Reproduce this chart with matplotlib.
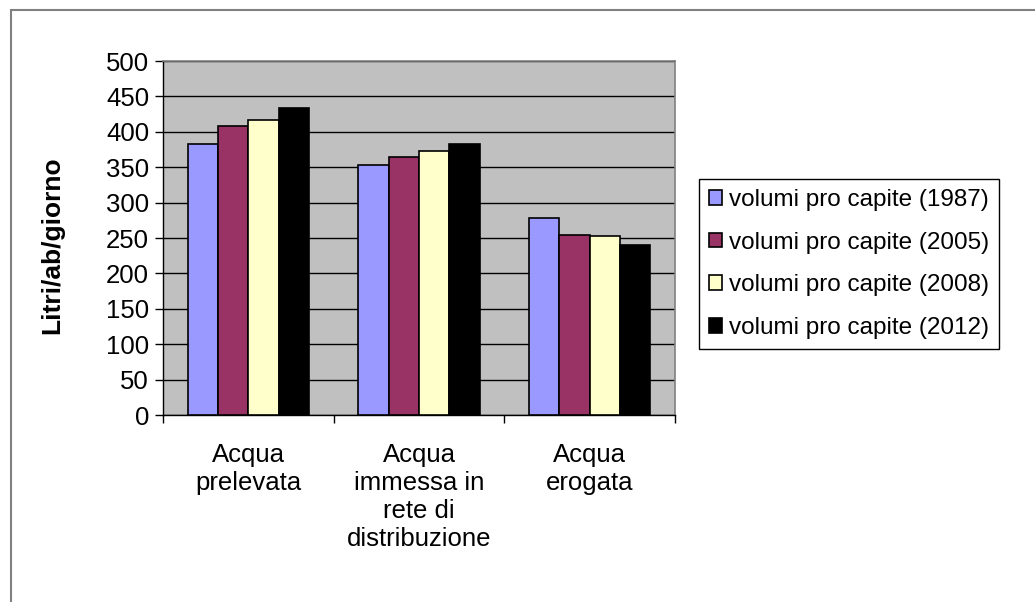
import matplotlib.pyplot as plt
from matplotlib.patches import Rectangle
import numpy as np

plt.rcParams['font.family'] = ['Liberation Sans', 'DejaVu Sans']

categories = ['Acqua\nprelevata', 'Acqua\nimmessa in\nrete di\ndistribuzione', 'Acqua\nerogata']
series = ['volumi pro capite (1987)', 'volumi pro capite (2005)',
          'volumi pro capite (2008)', 'volumi pro capite (2012)']
v1987 = [383, 353, 279]
v2005 = [408, 365, 254]
v2008 = [417, 373, 253]
v2012 = [434, 383, 240]
colors = ['#9999FF', '#993366', '#FFFFCC', '#000000']

fig = plt.figure(figsize=(10.35, 6.02), dpi=100)

# outer chart frame
fig.patches.append(Rectangle((11 / 1035, -0.05), 1.1, 1 - 10 / 602 + 0.05,
                             transform=fig.transFigure, fill=False,
                             edgecolor='#808080', linewidth=1.5))

ax = fig.add_axes([0.1575, 0.3106, 0.4947, 0.588])
ax.set_facecolor('#C0C0C0')

x = np.arange(len(categories))
w = 0.178
for i, vals in enumerate([v1987, v2005, v2008, v2012]):
    ax.bar(x + (i - 1.5) * w, vals, width=w, color=colors[i],
           edgecolor='black', linewidth=1.2, label=series[i], zorder=3)

ax.set_xlim(-0.5, 2.5)
ax.set_ylim(0, 500)
ax.set_yticks(range(0, 501, 50))
ax.yaxis.grid(True, color='black', linewidth=1)
ax.set_axisbelow(True)

# category boundaries carry the tick marks, centres carry the labels
ax.set_xticks([-0.5, 0.5, 1.5, 2.5])
ax.set_xticklabels([])
ax.set_xticks(x, minor=True)
ax.set_xticklabels(categories, minor=True, fontsize=18.5, linespacing=1.22)
ax.tick_params(axis='x', which='major', direction='out', length=6, width=1)
ax.tick_params(axis='x', which='minor', length=0, pad=20)
ax.tick_params(axis='y', direction='out', length=6, width=1, labelsize=18.5, pad=4)

for side in ['top', 'right']:
    ax.spines[side].set_color('#808080')
    ax.spines[side].set_linewidth(1.2)
for side in ['left', 'bottom']:
    ax.spines[side].set_color('black')
    ax.spines[side].set_linewidth(1)

ax.set_ylabel('Litri/ab/giorno', fontsize=19, fontweight='bold')
ax.yaxis.set_label_coords(-0.193, 0.48)

leg = fig.legend(loc='center left', bbox_to_anchor=(699 / 1035, 1 - 264 / 602),
                 fontsize=17.5, frameon=True, fancybox=False, framealpha=1,
                 edgecolor='black', handlelength=0.55, handleheight=0.55,
                 handletextpad=0.3, labelspacing=0.85, borderpad=0.4,
                 borderaxespad=0)
leg.get_frame().set_linewidth(1)

plt.savefig('out.png', dpi=100, facecolor='white')
